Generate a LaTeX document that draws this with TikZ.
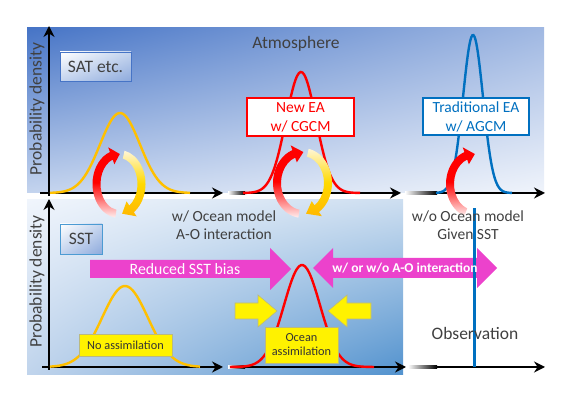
\documentclass[tikz,border=0pt]{standalone}
\usepackage{fontspec}
\setmainfont{Carlito}
\usetikzlibrary{arrows.meta,shadings}

\definecolor{gold}{RGB}{255,192,0}
\definecolor{eablue}{RGB}{0,112,192}
\definecolor{biaspink}{RGB}{236,66,204}
\definecolor{txtgray}{RGB}{64,64,64}
\definecolor{skydark}{RGB}{70,116,198}
\definecolor{skytop}{RGB}{160,184,226}
\definecolor{skylow}{RGB}{196,212,238}
\definecolor{skylight}{RGB}{240,244,251}
\definecolor{sealight}{RGB}{240,245,252}
\definecolor{seamid}{RGB}{205,222,240}
\definecolor{sealow}{RGB}{192,212,236}
\definecolor{seadark}{RGB}{82,146,206}
\definecolor{boxedge}{RGB}{185,185,130}
\definecolor{cream}{RGB}{255,246,214}
\definecolor{amber}{RGB}{255,184,0}

% ring-shaped arrow: centre, start, head base, tip, x radius, y radius, shading
\newcommand{\ringarrow}[7]{%
  \begin{scope}[shift={#1}]
    \pgfmathsetmacro\rxo{#5+4}\pgfmathsetmacro\ryo{#6+4}
    \pgfmathsetmacro\rxi{#5-4}\pgfmathsetmacro\ryi{#6-4}
    \pgfmathsetmacro\rxh{#5+9}\pgfmathsetmacro\ryh{#6+9}
    \pgfmathsetmacro\rxl{#5-9}\pgfmathsetmacro\ryl{#6-9}
    \shade[#7] ({\rxo*cos(#2)},{\ryo*sin(#2)})
      arc[start angle=#2, end angle=#3, x radius=\rxo, y radius=\ryo]
      -- ({\rxh*cos(#3)},{\ryh*sin(#3)}) -- ({#5*cos(#4)},{#6*sin(#4)})
      -- ({\rxl*cos(#3)},{\ryl*sin(#3)}) -- ({\rxi*cos(#3)},{\ryi*sin(#3)})
      arc[start angle=#3, end angle=#2, x radius=\rxi, y radius=\ryi] -- cycle;
  \end{scope}}

\begin{document}
\begin{tikzpicture}[x=1pt,y=1pt]
    \tikzset{axis/.style = {line width=2.4pt, -{Stealth[length=11pt,width=11pt]}}}
    \tikzset{fadein/.style = {left color=white, right color=black}}
    \tikzset{pdf/.style = {line width=2.4pt, smooth, samples=70}}
    \tikzset{declare function={gauss(\t,\m,\s)=exp(-0.5*((\t-\m)/\s)*((\t-\m)/\s));}}
    \tikzset{lbl/.style = {text=txtgray, font=\fontsize{17.5}{20}\selectfont}}
    \tikzset{sublbl/.style = {text=txtgray, align=center, font=\fontsize{15.5}{18}\selectfont}}
    \tikzset{eabox/.style = {draw, fill=white, line width=1.3pt, align=center, minimum width=107, minimum height=38, inner sep=1pt, font=\fontsize{15.5}{19}\selectfont}}
    \tikzset{varbox/.style = {draw=skydark, line width=0.8pt, upper left=white, upper right=skylow, lower left=skylow, lower right=skytop!80!skydark, text=txtgray, font=\fontsize{17.5}{20}\selectfont, inner sep=0pt}}
    \tikzset{yelbox/.style = {draw=boxedge, fill=yellow, line width=0.8pt, align=center, inner sep=1pt, text=black!80, font=\fontsize{12.3}{14}\selectfont}}
    \tikzset{pusharrow/.style = {fill=yellow, draw=boxedge, line width=0.6pt}}
    \useasboundingbox (0,0) rectangle (572,406);

    % panels
    \shade[upper left=skydark, upper right=skytop, lower left=skylow, lower right=skylight] (27,213) rectangle (544,378);
    \shade[upper left=sealight, upper right=seamid, lower left=sealow, lower right=seadark] (27,31) rectangle (403,206);

    % axes
    \coordinate (topO) at (49,210);  \coordinate (topY) at (49,380);
    \coordinate (botO) at (49,36);   \coordinate (botY) at (49,207);
    \coordinate (topA) at (40,213);  \coordinate (topB) at (223,213);
    \coordinate (topC) at (245,213); \coordinate (topD) at (401,213);
    \coordinate (topE) at (437,213); \coordinate (topF) at (545,213);
    \coordinate (botA) at (42,39);   \coordinate (botB) at (223,39);
    \coordinate (botC) at (245,39);  \coordinate (botD) at (406,39);
    \coordinate (botE) at (437,39);  \coordinate (botF) at (545,39);
    \shade[fadein] (228,211.8) rectangle (245,214.2);
    \shade[fadein] (405,211.8) rectangle (437,214.2);
    \shade[fadein] (228,37.8) rectangle (245,40.2);
    \shade[fadein] (408,37.8) rectangle (437,40.2);
    \draw[axis] (topO) -- (topY);
    \draw[axis] (botO) -- (botY);
    \draw[axis] (topA) -- (topB);
    \draw[axis] (topC) -- (topD);
    \draw[axis] (topE) -- (topF);
    \draw[axis] (botA) -- (botB);
    \draw[axis] (botC) -- (botD);
    \draw[axis] (botE) -- (botF);

    % distributions
    \draw[pdf, gold] plot[domain=50:190] (\x, {213+80*gauss(\x,120,20)});
    \draw[pdf, red] plot[domain=243:360] (\x, {213+121*gauss(\x,301,15)});
    \draw[pdf, eablue] plot[domain=436:512] (\x, {213+158*gauss(\x,473,10)});
    \draw[pdf, gold] plot[domain=50:200] (\x, {39+81*gauss(\x,125,23)});
    \draw[pdf, red] plot[domain=230:374] (\x, {39+102*gauss(\x,302,18)});

    % cycles
    \ringarrow{(119,222)}{262}{110}{88}{22.5}{30}{top color=red, bottom color=red!6, middle color=red}
    \ringarrow{(119,222)}{78}{-56}{-82}{22.5}{30}{top color=cream, bottom color=amber, middle color=gold!60!yellow}
    \ringarrow{(302.5,223)}{262}{110}{88}{25.5}{31}{top color=red, bottom color=red!6, middle color=red}
    \ringarrow{(302.5,223)}{78}{-56}{-82}{25.5}{31}{top color=cream, bottom color=amber, middle color=gold!60!yellow}
    \ringarrow{(474,222)}{250}{110}{88}{24}{30}{top color=red, bottom color=red!6, middle color=red}

    % upper labels
    \node[lbl] (atmos) at (296,362) {Atmosphere};
    \node[varbox, minimum width=71, minimum height=29] (sat) at (95.5,339.5) {SAT etc.};
    \node[eabox, draw=red, text=red] (newea) at (300.5,289) {New EA\\w/ CGCM};
    \node[eabox, draw=eablue, text=eablue, minimum width=106, minimum height=37] (oldea) at (476,289.5) {Traditional EA\\w/ AGCM};
    \node[lbl, rotate=90] (ylabtop) at (37,297) {Probability density};
    \node[lbl, rotate=90] (ylabbot) at (37,124.5) {Probability density};

    % block arrows
    \fill[biaspink] (90,146) -- (270,146) -- (270,158) -- (291,137) -- (270,116) -- (270,128) -- (90,128) -- cycle;
    \fill[biaspink] (313,138) -- (333,158) -- (333,148) -- (477,148) -- (477,158) -- (497,138)
        -- (477,118) -- (477,128) -- (333,128) -- (333,118) -- cycle;
    \draw[pusharrow] (235,103) -- (258,103) -- (258,111) -- (277,95) -- (258,79) -- (258,87) -- (235,87) -- cycle;
    \draw[pusharrow] (371,103) -- (347,103) -- (347,111) -- (328,95) -- (347,79) -- (347,87) -- (371,87) -- cycle;

    % observation
    \coordinate (obsB) at (474,39);
    \coordinate (obsT) at (474,198);
    \draw[eablue, line width=3pt] (obsB) -- (obsT);

    % lower labels
    \node[sublbl] (withocn) at (224,181) {w/ Ocean model\\A-O interaction};
    \node[sublbl] (woocn) at (468,181) {w/o Ocean model\\Given SST};
    \node[varbox, minimum width=42, minimum height=30, draw=eablue!70] (sst) at (81,167) {SST};
    \node[text=white, font=\fontsize{15.8}{18}\selectfont] (bias) at (185,137) {Reduced SST bias};
    \node[text=white, font=\bfseries\fontsize{13.5}{16}\selectfont] (aoint) at (405,138) {w/ or w/o A-O interaction};
    \node[yelbox, minimum width=93, minimum height=22] (noassim) at (125.5,61) {No assimilation};
    \node[yelbox, minimum width=73, minimum height=36] (ocassim) at (301.5,61) {Ocean\\assimilation};
    \node[lbl] (obs) at (475,73) {Observation};
\end{tikzpicture}
\end{document}
